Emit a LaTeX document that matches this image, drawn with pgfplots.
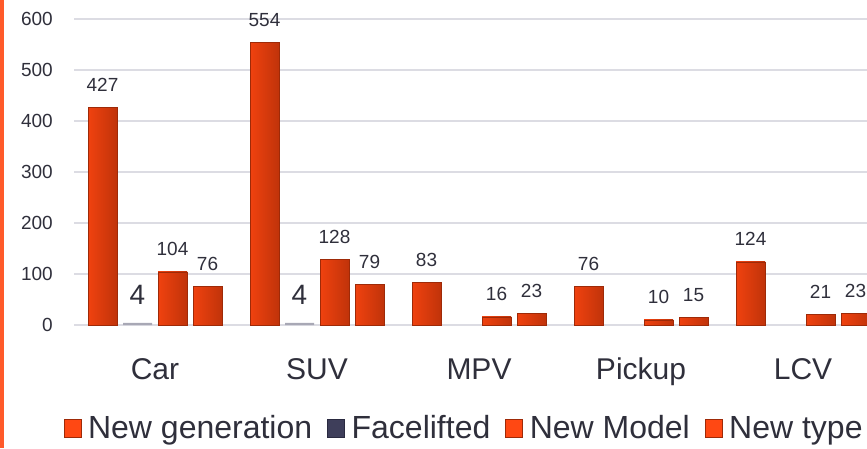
\documentclass[border=0pt]{standalone}
\usepackage{pgfplots}
\pgfplotsset{compat=1.18}
\usepackage{fontspec}
\setmainfont{Liberation Sans}
\definecolor{barM}{HTML}{FF4813}
\definecolor{barL}{HTML}{F0420F}
\definecolor{barR}{HTML}{C0330A}
\definecolor{barE}{HTML}{9E2A08}
\definecolor{faceC}{HTML}{3E3E5A}
\definecolor{faceE}{HTML}{2A2A40}
\definecolor{txt}{HTML}{2F2F3B}
\definecolor{gridC}{HTML}{DCDCE3}
\definecolor{stripO}{HTML}{FF5A2A}
\pgfplotsset{
  obar/.style={draw=barE, line width=0.5pt, left color=barL, middle color=barM, right color=barR, forget plot},
}
\begin{document}
\begin{tikzpicture}
\fill[stripO] (0,0) rectangle (4pt,448pt);
\begin{axis}[
  at={(74pt,123pt)}, anchor=south west,
  scale only axis, width=793pt, height=306pt,
  xmin=-0.5, xmax=4.395, ymin=0, ymax=600,
  ytick={0,100,...,600},
  xtick={0,1,2,3,4}, xticklabels={Car,SUV,MPV,Pickup,LCV},
  axis line style={draw=none}, major tick style={draw=none},
  ymajorgrids, major grid style={draw=gridC, line width=1.4pt},
  /pgf/number format/assume math mode=true,
  yticklabel style={font=\fontsize{19}{20}\selectfont, text=txt, anchor=east, inner sep=0pt, xshift=-21pt},
  xticklabel style={font=\fontsize{30}{32}\selectfont, text=txt, anchor=base, inner sep=0pt, yshift=-50pt},
  ybar, bar width=29pt,
  nodes near coords,
  every node near coord/.append style={font=\fontsize{19}{20}\selectfont, text=txt, anchor=base, inner sep=0pt, yshift=16pt},
  legend columns=-1,
  legend style={draw=none, fill=none, at={(0.492,-0.337)}, anchor=center,
    font=\fontsize{32}{33}\selectfont, text=txt,
    /tikz/every even column/.append style={column sep=13pt},
    inner sep=0pt},
  legend image code/.code={\fill[#1] (0pt,-9pt) rectangle (17pt,9pt); \path (22pt,0pt);},
]
% New generation
\addplot[bar shift=-52.5pt, obar] coordinates {(0,427)};
\addplot[bar shift=-52.5pt, obar] coordinates {(1,554)};
\addplot[bar shift=-52.5pt, obar] coordinates {(2,83)};
\addplot[bar shift=-52.5pt, obar] coordinates {(3,76)};
\addplot[bar shift=-52.5pt, obar] coordinates {(4,124)};
% Facelifted
\addplot[bar shift=-17.5pt, draw=none, fill=faceC!45, forget plot,
  every node near coord/.append style={font=\fontsize{28}{30}\selectfont, yshift=2pt}] coordinates {(0,4) (1,4)};
% New Model
\addplot[bar shift=17.5pt, obar] coordinates {(0,104)};
\addplot[bar shift=17.5pt, obar] coordinates {(1,128)};
\addplot[bar shift=17.5pt, obar] coordinates {(2,16)};
\addplot[bar shift=17.5pt, obar] coordinates {(3,10)};
\addplot[bar shift=17.5pt, obar] coordinates {(4,21)};
% New type
\addplot[bar shift=52.5pt, obar] coordinates {(0,76)};
\addplot[bar shift=52.5pt, obar] coordinates {(1,79)};
\addplot[bar shift=52.5pt, obar] coordinates {(2,23)};
\addplot[bar shift=52.5pt, obar] coordinates {(3,15)};
\addplot[bar shift=52.5pt, obar] coordinates {(4,23)};
\addlegendimage{fill=barM, draw=barE}
\addlegendentry{New generation}
\addlegendimage{fill=faceC, draw=faceE}
\addlegendentry{Facelifted}
\addlegendimage{fill=barM, draw=barE}
\addlegendentry{New Model}
\addlegendimage{fill=barM, draw=barE}
\addlegendentry{New type}
\end{axis}
\pgfresetboundingbox
\path (0,0) rectangle (867pt,448pt);
\end{tikzpicture}
\end{document}
